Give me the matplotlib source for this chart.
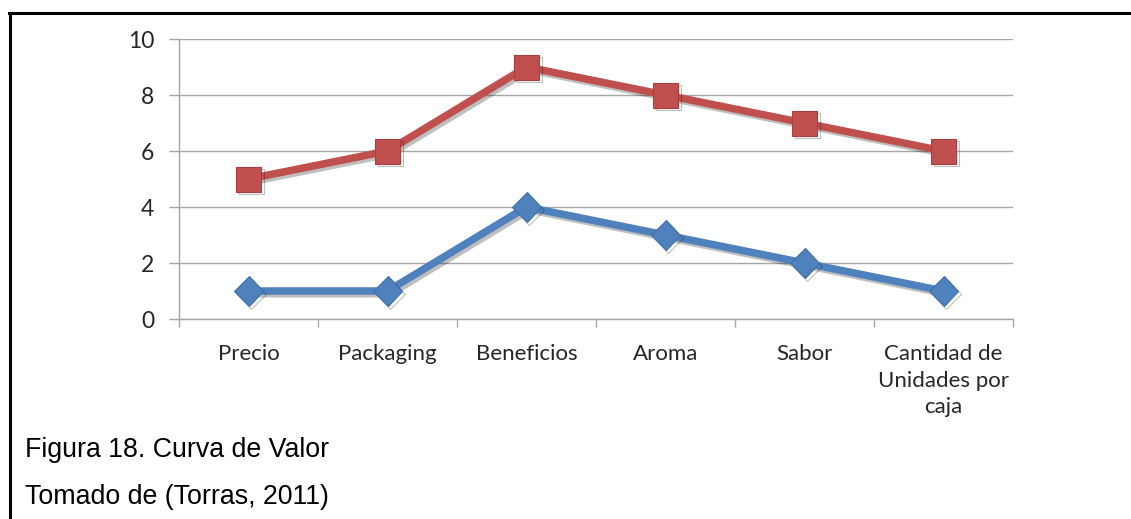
import matplotlib.pyplot as plt
import matplotlib.patheffects as pe
from matplotlib.lines import Line2D

# Curva de valor: atributos y puntajes
categorias = ["Precio", "Packaging", "Beneficios", "Aroma", "Sabor",
              "Cantidad de\nUnidades por\ncaja"]
serie_alta = [5, 6, 9, 8, 7, 6]
serie_baja = [1, 1, 4, 3, 2, 1]
yticks = [0, 2, 4, 6, 8, 10]

rojo = "#C0504D"
azul = "#4F81BD"
gris = "#A6A6A6"

fig = plt.figure(figsize=(11.31, 5.19), dpi=100)

# marco del cuadro
fig.add_artist(Line2D([0.008, 1.0], [0.975, 0.975], color="black", lw=2.2,
                      transform=fig.transFigure))
fig.add_artist(Line2D([0.0085, 0.0085], [0.0, 0.975], color="black", lw=2.2,
                      transform=fig.transFigure))

ax = fig.add_axes([179 / 1131, 1 - 319 / 519, (1013 - 179) / 1131, 280 / 519])

x = range(len(categorias))
sombra = [pe.SimpleLineShadow(offset=(2, -2), alpha=0.25, shadow_color="black"),
          pe.Normal()]
ax.plot(x, serie_alta, color=rojo, lw=5.4, marker="s", markersize=18,
        markerfacecolor=rojo, markeredgecolor="#A93F3C", markeredgewidth=0.8,
        path_effects=sombra, zorder=3)
ax.plot(x, serie_baja, color=azul, lw=5.4, marker="D", markersize=15,
        markerfacecolor=azul, markeredgecolor="#3F6FA8", markeredgewidth=0.8,
        path_effects=sombra, zorder=3)

ax.set_xlim(-0.5, len(categorias) - 0.5)
ax.set_ylim(0, 10)
ax.set_yticks(yticks)
ax.yaxis.grid(True, color=gris, lw=1)
ax.set_axisbelow(True)

# marcas del eje x entre categorias
ax.set_xticks([i - 0.5 for i in range(len(categorias) + 1)], minor=False)
ax.set_xticklabels([])
ax.set_xticks(list(x), minor=True)
ax.set_xticklabels(categorias, minor=True, fontsize=16, family="Lato",
                   color="#262626", linespacing=1.42, va="top")
ax.tick_params(axis="x", which="major", length=6, color=gris, width=1)
ax.tick_params(axis="x", which="minor", length=0, pad=18)
ax.tick_params(axis="y", length=7, color=gris, width=1, pad=11,
               labelsize=16.5, labelcolor="#262626")
for lbl in ax.get_yticklabels():
    lbl.set_family("Lato")

for s in ["top", "right"]:
    ax.spines[s].set_visible(False)
for s in ["left", "bottom"]:
    ax.spines[s].set_color(gris)
    ax.spines[s].set_linewidth(1)

fig.text(25 / 1131, 1 - 450 / 519, "Figura 18. Curva de Valor", fontsize=19.3,
         family="Liberation Sans", va="center", ha="left")
fig.text(25 / 1131, 1 - 497 / 519, "Tomado de (Torras, 2011)", fontsize=19.3,
         family="Liberation Sans", va="center", ha="left")

fig.savefig("out.png", dpi=100)
